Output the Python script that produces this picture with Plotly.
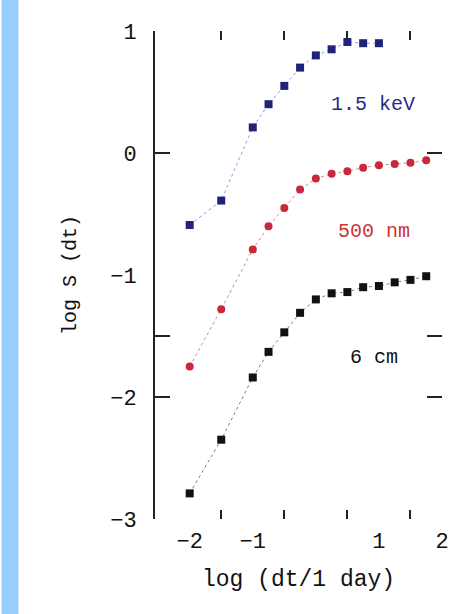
import plotly.graph_objects as go

# data: log(dt/1 day) and log S(dt)
x_blue = [-2, -1.5, -1, -0.75, -0.5, -0.25, 0, 0.25, 0.5, 0.75, 1.0]
y_blue = [-0.59, -0.39, 0.21, 0.40, 0.55, 0.70, 0.80, 0.85, 0.91, 0.90, 0.90]

x_red = [-2, -1.5, -1, -0.75, -0.5, -0.25, 0, 0.25, 0.5, 0.75, 1.0, 1.25, 1.5, 1.75]
y_red = [-1.75, -1.28, -0.79, -0.60, -0.45, -0.30, -0.21, -0.17, -0.15, -0.12, -0.10, -0.09, -0.08, -0.06]

x_black = [-2, -1.5, -1, -0.75, -0.5, -0.25, 0, 0.25, 0.5, 0.75, 1.0, 1.25, 1.5, 1.75]
y_black = [-2.79, -2.35, -1.84, -1.63, -1.47, -1.31, -1.20, -1.15, -1.14, -1.10, -1.09, -1.06, -1.04, -1.01]

x_ticks = [-2, -1, 1, 2]
x_ticktext = ["\u22122", "\u22121", "1", "2"]
x_minor = [-1.5, -0.5, 0.5, 1.5]
y_ticks = [1, 0, -1, -2, -3]
y_ticktext = ["1", "0", "\u22121", "\u22122", "\u22123"]
y_minor = [0, -1.5, -2]

labels = ["1.5 keV", "500 nm", "6 cm"]
label_x = [0.90, 0.92, 0.92]
label_y = [0.40, -0.64, -1.68]
label_colors = ["#2a2a8c", "#cc3333", "#111111"]

FONT = "Liberation Mono, Courier New, monospace"

fig = go.Figure()

series = [
    (x_blue, y_blue, "#22227a", "#9a9ad8", "square"),
    (x_red, y_red, "#c8283a", "#c89090", "circle"),
    (x_black, y_black, "#111111", "#808080", "square"),
]
for xs, ys, mc, lc, sym in series:
    fig.add_trace(go.Scatter(
        x=xs, y=ys, mode="lines+markers",
        line=dict(color=lc, width=1, dash="dot"),
        marker=dict(color=mc, size=8, symbol=sym),
        showlegend=False, hoverinfo="skip",
    ))

# helper trace for the tick-mark axes
fig.add_trace(go.Scatter(
    x=x_black[:1], y=y_black[:1], xaxis="x2", yaxis="y2",
    mode="markers", marker=dict(opacity=0), showlegend=False, hoverinfo="skip",
))

for txt, lx, ly, c in zip(labels, label_x, label_y, label_colors):
    fig.add_annotation(x=lx, y=ly, text=txt, showarrow=False,
                       font=dict(family=FONT, size=20, color=c))

fig.add_shape(type="rect", xref="paper", yref="paper",
              x0=-155 / 290, x1=(17 - 155) / 290,
              y0=-100 / 488, y1=1 + 40 / 488,
              fillcolor="#99ccff", line=dict(width=0), layer="below")

fig.update_layout(
    width=461, height=614,
    margin=dict(l=155, r=16, t=31, b=95),
    paper_bgcolor="white", plot_bgcolor="white",
    font=dict(family=FONT, color="#111111"),
    xaxis=dict(range=[-2.55, 2.0], tickvals=x_ticks, ticktext=x_ticktext,
               ticks="", showline=False, showgrid=False, zeroline=False,
               tickfont=dict(size=22), ticklabelstandoff=6,
               title=dict(text="log (dt/1 day)", font=dict(size=23), standoff=15)),
    yaxis=dict(range=[-3, 1], tickvals=y_ticks, ticktext=y_ticktext,
               ticks="", showline=True, linecolor="#222222", linewidth=2,
               showgrid=False, zeroline=False,
               tickfont=dict(size=22), ticklabelstandoff=12,
               title=dict(text="log S (dt)", font=dict(size=20), standoff=28)),
    xaxis2=dict(overlaying="x", anchor="y", range=[-2.55, 2.0], tickvals=x_minor,
                ticks="inside", ticklen=9, tickwidth=2, tickcolor="#222222",
                mirror="ticks", showline=False, showticklabels=False,
                showgrid=False, zeroline=False),
    yaxis2=dict(overlaying="y", anchor="x", range=[-3, 1], tickvals=y_minor,
                ticks="inside", ticklen=15, tickwidth=2, tickcolor="#222222",
                mirror="ticks", showline=False, showticklabels=False,
                showgrid=False, zeroline=False),
)

fig.write_html("out.html")
